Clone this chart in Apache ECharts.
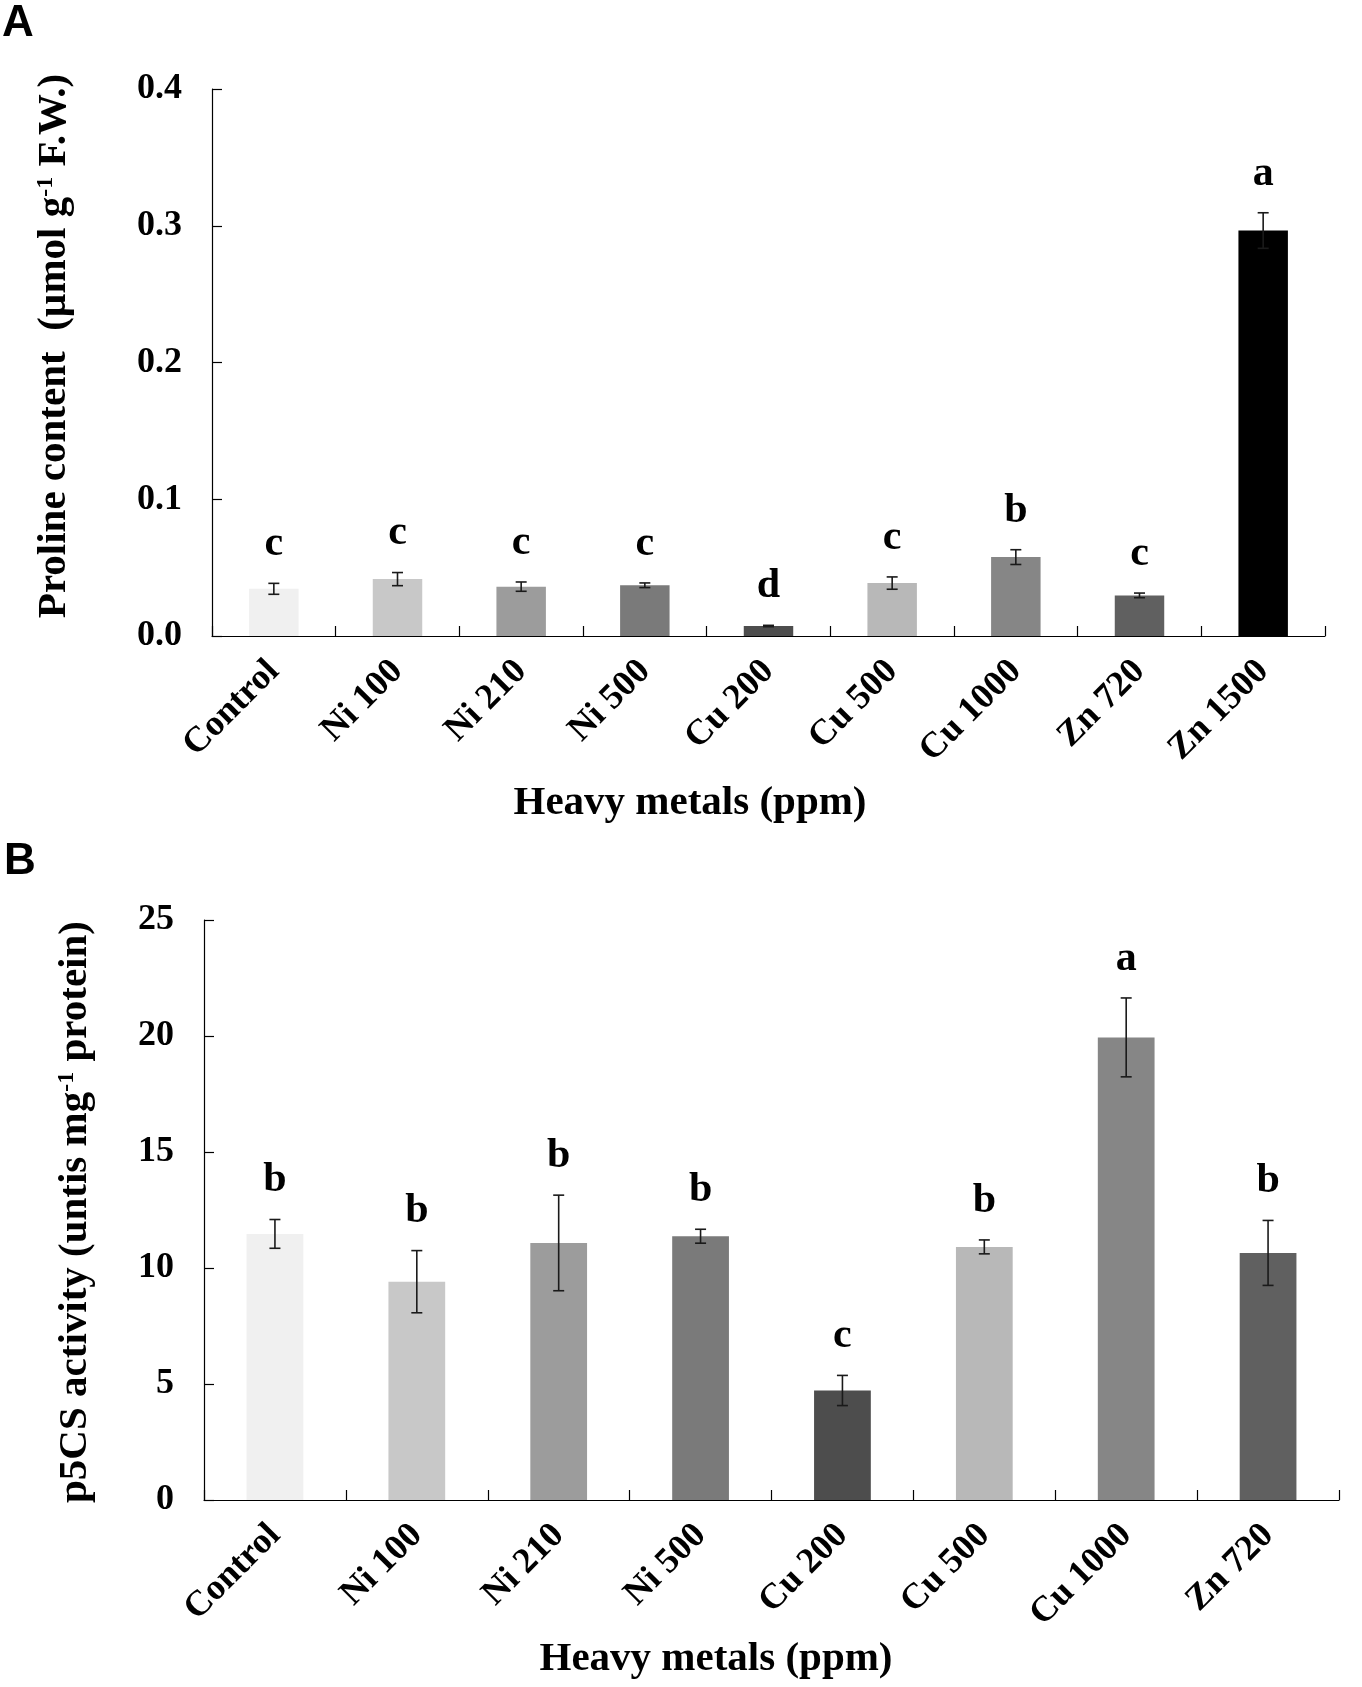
<!DOCTYPE html>
<html>
<head>
<meta charset="utf-8">
<script src="https://cdn.jsdelivr.net/npm/echarts@6/dist/echarts.min.js"></script>
<style>
  html, body { margin: 0; padding: 0; background: #fff; }
  #chart { width: 1362px; height: 1687px; }
</style>
</head>
<body>
<div id="chart"></div>
<script>
// panel A: proline content
const catsA = ["Control", "Ni 100", "Ni 210", "Ni 500", "Cu 200", "Cu 500", "Cu 1000", "Zn 720", "Zn 1500"];
const prolineMean = [0.0345, 0.0416, 0.0361, 0.0371, 0.0073, 0.0387, 0.0577, 0.0297, 0.2965];
const prolineErr = [0.0040, 0.0048, 0.0034, 0.0017, 0.0005, 0.0045, 0.0054, 0.0017, 0.0130];
const prolineLetters = ["c", "c", "c", "c", "d", "c", "b", "c", "a"];
const colorsA = ["#f0f0f0", "#c8c8c8", "#9c9c9c", "#7a7a7a", "#4d4d4d", "#b8b8b8", "#868686", "#606060", "#000000"];

// panel B: p5CS activity
const catsB = ["Control", "Ni 100", "Ni 210", "Ni 500", "Cu 200", "Cu 500", "Cu 1000", "Zn 720"];
const p5csMean = [11.47, 9.41, 11.08, 11.37, 4.72, 10.91, 19.94, 10.65];
const p5csErr = [0.62, 1.34, 2.06, 0.30, 0.65, 0.30, 1.70, 1.40];
const p5csLetters = ["b", "b", "b", "b", "c", "b", "a", "b"];
const colorsB = ["#f0f0f0", "#c8c8c8", "#9c9c9c", "#7a7a7a", "#4d4d4d", "#b8b8b8", "#868686", "#606060"];

const serif = "'Liberation Serif', 'Times New Roman', serif";

function errorBars(letters) {
  return function (params, api) {
    const x = api.value(0);
    const m = api.value(1);
    const e = api.value(2);
    const top = api.coord([x, m + e]);
    const bot = api.coord([x, m - e]);
    const cap = 5.5;
    const ls = { stroke: "#1a1a1a", lineWidth: 1.6 };
    return {
      type: "group",
      children: [
        { type: "line", shape: { x1: top[0], y1: top[1], x2: bot[0], y2: bot[1] }, style: ls },
        { type: "line", shape: { x1: top[0] - cap, y1: top[1], x2: top[0] + cap, y2: top[1] }, style: ls },
        { type: "line", shape: { x1: bot[0] - cap, y1: bot[1], x2: bot[0] + cap, y2: bot[1] }, style: ls },
        {
          type: "text",
          x: top[0],
          y: top[1] - 39,
          style: {
            text: letters[params.dataIndex],
            fontFamily: serif,
            fontWeight: "bold",
            fontSize: 42,
            fill: "#000",
            align: "center",
            verticalAlign: "middle"
          }
        }
      ]
    };
  };
}

const axisLabelX = { rotate: 45, margin: 30, fontFamily: serif, fontWeight: "bold", fontSize: 36, color: "#000", interval: 0 };
const axisLabelY = { margin: 30, fontFamily: serif, fontWeight: "bold", fontSize: 36, color: "#000" };
const blackLine = { show: true, lineStyle: { color: "#000", width: 1.2 } };
const tickIn = { show: true, inside: true, length: 10, lineStyle: { color: "#000", width: 1.2 } };

const titleStyle = { fontFamily: serif, fontWeight: "bold", fontSize: 41, fill: "#000" };
const supStyle = { fontFamily: serif, fontWeight: "bold", fontSize: 24, verticalAlign: "top", fill: "#000" };

const chart = echarts.init(document.getElementById("chart"), null, { renderer: "canvas" });
chart.setOption({
  animation: false,
  backgroundColor: "#fff",
  grid: [
    { left: 212, top: 89, width: 1113, height: 547 },
    { left: 204, top: 920, width: 1135, height: 580 }
  ],
  xAxis: [
    { type: "category", gridIndex: 0, data: catsA, axisLine: blackLine, axisTick: tickIn, axisLabel: axisLabelX },
    { type: "category", gridIndex: 1, data: catsB, axisLine: blackLine, axisTick: tickIn, axisLabel: axisLabelX }
  ],
  yAxis: [
    {
      type: "value", gridIndex: 0, min: 0, max: 0.4, interval: 0.1,
      axisLine: blackLine, axisTick: tickIn, splitLine: { show: false },
      axisLabel: Object.assign({}, axisLabelY, { formatter: v => v.toFixed(1) })
    },
    {
      type: "value", gridIndex: 1, min: 0, max: 25, interval: 5,
      axisLine: blackLine, axisTick: tickIn, splitLine: { show: false },
      axisLabel: axisLabelY
    }
  ],
  series: [
    {
      type: "bar", xAxisIndex: 0, yAxisIndex: 0, barWidth: "40%",
      data: prolineMean.map((v, i) => ({ value: v, itemStyle: { color: colorsA[i] } }))
    },
    {
      type: "custom", xAxisIndex: 0, yAxisIndex: 0, z: 5,
      data: prolineMean.map((v, i) => [i, v, prolineErr[i]]),
      renderItem: errorBars(prolineLetters)
    },
    {
      type: "bar", xAxisIndex: 1, yAxisIndex: 1, barWidth: "40%",
      data: p5csMean.map((v, i) => ({ value: v, itemStyle: { color: colorsB[i] } }))
    },
    {
      type: "custom", xAxisIndex: 1, yAxisIndex: 1, z: 5,
      data: p5csMean.map((v, i) => [i, v, p5csErr[i]]),
      renderItem: errorBars(p5csLetters)
    }
  ],
  graphic: [
    { type: "text", left: 2, top: 2, style: { text: "A", fontFamily: "'Liberation Sans', Arial, sans-serif", fontWeight: "bold", fontSize: 44, fill: "#000" } },
    { type: "text", left: 4, top: 840, style: { text: "B", fontFamily: "'Liberation Sans', Arial, sans-serif", fontWeight: "bold", fontSize: 44, fill: "#000" } },
    {
      type: "text", x: 54, y: 346, rotation: Math.PI / 2,
      style: Object.assign({}, titleStyle, {
        text: "Proline content  (µmol g{sup|-1} F.W.)",
        align: "center", verticalAlign: "middle",
        rich: { sup: supStyle }
      })
    },
    {
      type: "text", x: 75, y: 1212, rotation: Math.PI / 2,
      style: Object.assign({}, titleStyle, {
        text: "p5CS activity (untis mg{sup|-1} protein)",
        align: "center", verticalAlign: "middle",
        rich: { sup: supStyle }
      })
    },
    { type: "text", x: 690, y: 803, style: Object.assign({}, titleStyle, { text: "Heavy metals (ppm)", align: "center", verticalAlign: "middle" }) },
    { type: "text", x: 716, y: 1659, style: Object.assign({}, titleStyle, { text: "Heavy metals (ppm)", align: "center", verticalAlign: "middle" }) }
  ]
});
</script>
</body>
</html>
